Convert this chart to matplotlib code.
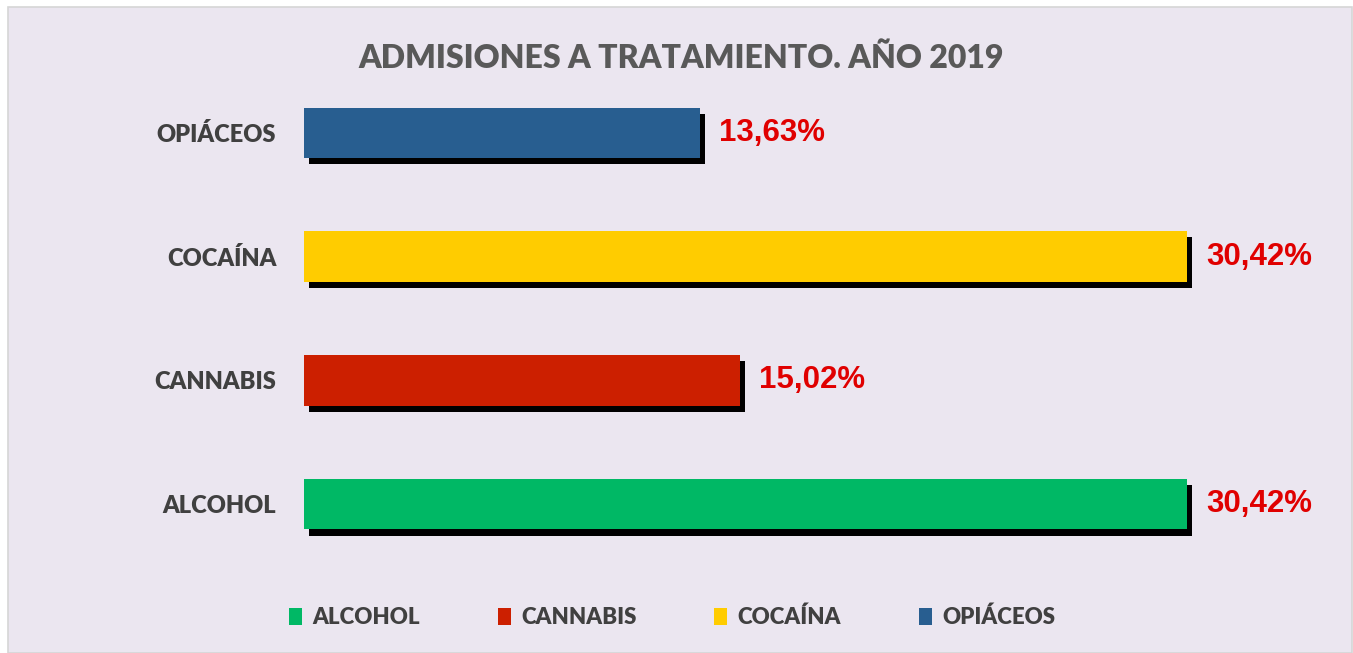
import matplotlib
matplotlib.use("Agg")
import matplotlib.pyplot as plt
import matplotlib.patheffects as pe
from matplotlib.patches import Rectangle, Patch

# data (bottom to top)
categories = ["ALCOHOL", "CANNABIS", "COCAÍNA", "OPIÁCEOS"]
values = [30.42, 15.02, 30.42, 13.63]
colors = ["#00B865", "#CC1F00", "#FFCC00", "#285E90"]
title = "ADMISIONES A TRATAMIENTO. AÑO 2019"

W, H = 1353, 653
fig = plt.figure(figsize=(W / 100, H / 100), dpi=100)
fig.patch.set_facecolor("white")

# chart area background with thin border
fig.patches.append(Rectangle((8 / W, 0), 1344 / W, 646 / H, transform=fig.transFigure,
                             facecolor="#EBE6F0", edgecolor="#D6D6D6", linewidth=1.2, zorder=-5))

ax = fig.add_axes([304 / W, (H - 566) / H, 1016 / W, 495 / H])
ax.set_zorder(2)
ax.set_facecolor("none")
ypos = list(range(len(categories)))
bars = ax.barh(ypos, values, height=0.41, color=colors, zorder=3)
for b in bars:
    b.set_path_effects([pe.SimplePatchShadow(offset=(3.8, -4.4), shadow_rgbFace="black", alpha=1.0),
                        pe.Normal()])

for y, v in zip(ypos, values):
    ax.annotate(f"{v:.2f}%".replace(".", ","), xy=(v, y), xytext=(14, 0),
                textcoords="offset points", va="center", ha="left",
                fontsize=22.5, fontweight="bold", color="#E00000", family="Liberation Sans")

ax.set_xlim(0, 35)
ax.set_ylim(-0.5, 3.5)
ax.set_xticks([])
ax.set_yticks(ypos)
ax.set_yticklabels(categories, fontsize=17, fontweight="heavy", color="#404040", family="Lato")
ax.tick_params(axis="y", length=0, pad=20)
for s in ax.spines.values():
    s.set_visible(False)

fig.text(681.5 / W, 1 - 58 / H, title, ha="center", va="center", fontsize=23,
         fontweight="heavy", color="#595959", family="Lato")

handles = [Patch(facecolor=c, label=l) for c, l in zip(colors, categories)]
fig.legend(handles=handles, loc="center", bbox_to_anchor=(672 / W, 1 - 617 / H), ncol=4,
           frameon=False, handlelength=0.6, handleheight=0.8, handletextpad=0.45,
           columnspacing=3.5, prop={"family": "Lato", "weight": "heavy", "size": 16},
           labelcolor="#404040")

fig.savefig("out.png", dpi=100)
